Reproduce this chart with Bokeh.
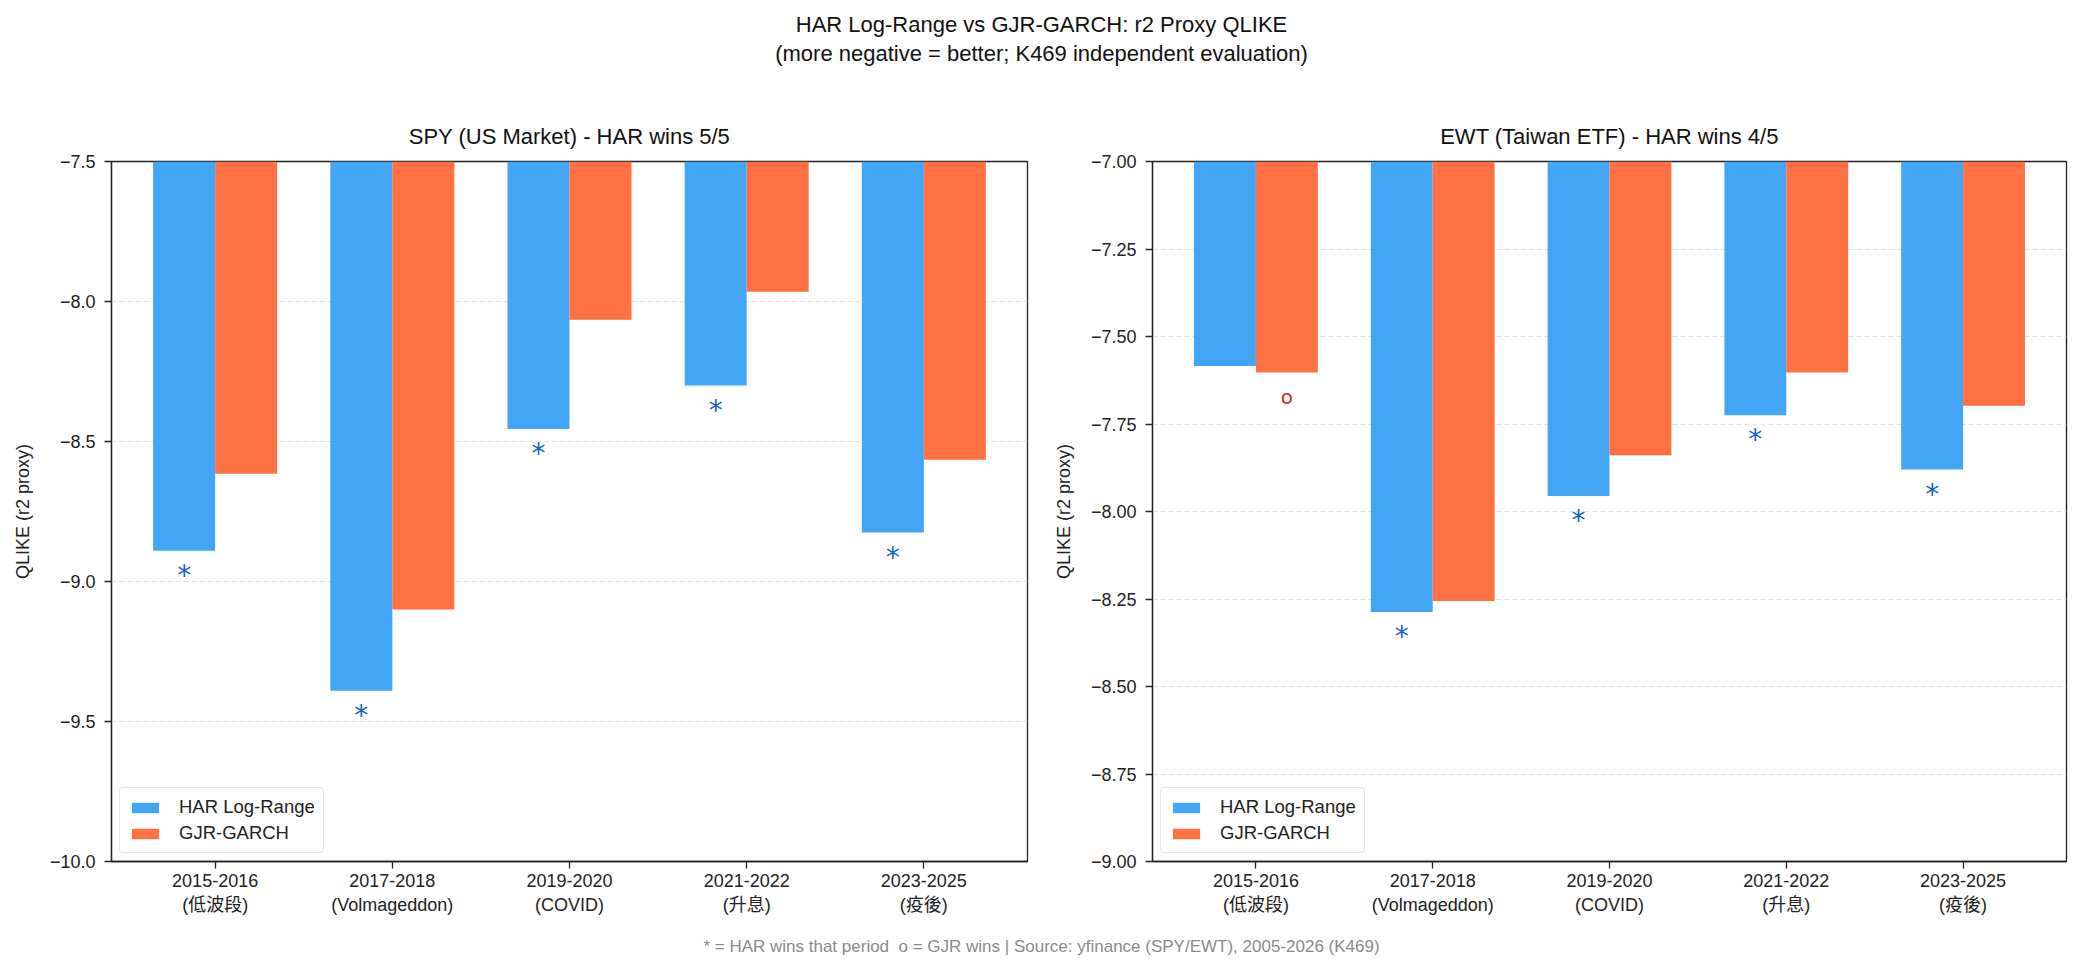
from bokeh.plotting import figure
from bokeh.layouts import column, row
from bokeh.models import Div, Range1d, FixedTicker, Legend, LegendItem, ColumnDataSource, Title
from bokeh.core.properties import value
from bokeh.embed import file_html
from bokeh.resources import INLINE

periods = ["2015-2016\n(低波段)", "2017-2018\n(Volmageddon)", "2019-2020\n(COVID)", "2021-2022\n(升息)", "2023-2025\n(疫後)"]
spy_har = [-8.89, -9.39, -8.455, -8.30, -8.825]
spy_gjr = [-8.615, -9.10, -8.065, -7.965, -8.565]
ewt_har = [-7.584, -8.287, -7.956, -7.725, -7.88]
ewt_gjr = [-7.603, -8.256, -7.839, -7.603, -7.698]

spy_ticks = [-10.0, -9.5, -9.0, -8.5, -8.0, -7.5]
ewt_ticks = [-9.0, -8.75, -8.5, -8.25, -8.0, -7.75, -7.5, -7.25, -7.0]

FONT = "Liberation Sans, Noto Sans CJK TC"
HAR_C = "#42A5F5"
GJR_C = "#FF7043"
W = 0.35


def make(title, har, gjr, ylo, yhi, ticks, fmt, width, bl, br):
    p = figure(width=width, height=825, output_backend="svg", toolbar_location=None,
               x_range=Range1d(-0.585, 4.585), y_range=Range1d(ylo, yhi),
               min_border_left=bl, min_border_right=br, min_border_top=61, min_border_bottom=64,
               title=title)
    p.title.align = "center"
    p.title.text_font = FONT
    p.title.text_font_size = "22px"
    p.title.text_font_style = "normal"
    p.title.text_color = "#111111"
    p.title.standoff = 19
    if "padding" in Title.properties():
        p.title.padding = 3
    xs = list(range(len(har)))
    src = ColumnDataSource(dict(xh=[x - W / 2 for x in xs], xg=[x + W / 2 for x in xs],
                                har=har, gjr=gjr, zero=[0.0] * len(xs)))
    r1 = p.vbar(x="xh", width=W, bottom="har", top="zero", source=src, fill_color=HAR_C, line_color=None)
    r2 = p.vbar(x="xg", width=W, bottom="gjr", top="zero", source=src, fill_color=GJR_C, line_color=None)
    off = (yhi - ylo) * 0.035
    sx, sy, ox, oy = [], [], [], []
    for i in xs:
        if har[i] < gjr[i]:
            sx.append(i - W / 2); sy.append(har[i] - off)
        else:
            ox.append(i + W / 2); oy.append(gjr[i] - off)
    p.text(x=sx, y=sy, text=["*"] * len(sx), text_color="#1565C0", text_font=value("DejaVu Sans"),
           text_font_size="28px", text_align="center", text_baseline="middle")
    p.text(x=ox, y=oy, text=["o"] * len(ox), text_color="#C62828", text_font=value("DejaVu Sans"),
           text_font_size="20px", text_align="center", text_baseline="middle")
    p.xgrid.visible = False
    p.ygrid.grid_line_color = "#e3e3e3"
    p.ygrid.grid_line_dash = "5 3"
    p.ygrid.ticker = FixedTicker(ticks=ticks)
    p.yaxis.ticker = FixedTicker(ticks=ticks)
    p.yaxis.major_label_overrides = {t: (fmt % t).replace("-", "\u2212") for t in ticks}
    p.xaxis.ticker = FixedTicker(ticks=xs)
    p.xaxis.major_label_overrides = {i: periods[i] for i in xs}
    for ax in (p.xaxis, p.yaxis):
        ax.minor_tick_line_color = None
        ax.major_tick_in = 0
        ax.major_tick_out = 7
        ax.axis_line_color = "#222222"
        ax.axis_line_width = 1.3
        ax.major_tick_line_color = "#222222"
        ax.major_tick_line_width = 1.3
        ax.major_label_text_font = FONT
        ax.major_label_text_font_size = "18px"
        ax.major_label_text_color = "#222222"
    p.yaxis.major_label_standoff = 9
    p.xaxis.major_label_standoff = 2
    p.yaxis.axis_label = "QLIKE (r2 proxy)"
    p.yaxis.axis_label_text_font = FONT
    p.yaxis.axis_label_text_font_size = "18px"
    p.yaxis.axis_label_text_font_style = "normal"
    p.yaxis.axis_label_text_color = "#222222"
    p.yaxis.axis_label_standoff = 14
    p.outline_line_color = "#222222"
    p.outline_line_width = 1.3
    leg = Legend(items=[LegendItem(label="HAR Log-Range", renderers=[r1]),
                        LegendItem(label="GJR-GARCH", renderers=[r2])],
                 location="bottom_left")
    leg.label_text_font = FONT
    leg.label_text_font_size = "18.5px"
    leg.label_text_color = "#222222"
    leg.glyph_width = 34
    leg.glyph_height = 13
    leg.label_height = 18
    leg.label_standoff = 17
    leg.border_line_color = "#d0d0d0"
    leg.border_line_width = 1.5
    leg.padding = 8
    leg.spacing = 4
    leg.margin = 8
    if "border_radius" in Legend.properties():
        leg.border_radius = 4
    p.add_layout(leg)
    return p


p1 = make("SPY (US Market) - HAR wins 5/5", spy_har, spy_gjr, -10.0, -7.5, spy_ticks, "%.1f", 1045, 111, 18)
p2 = make("EWT (Taiwan ETF) - HAR wins 4/5", ewt_har, ewt_gjr, -9.0, -7.0, ewt_ticks, "%.2f", 1038, 107, 17)

top = Div(text='<div style="padding-top:10px;line-height:29px">HAR Log-Range vs GJR-GARCH: r2 Proxy QLIKE<br>'
               '(more negative = better; K469 independent evaluation)</div>',
          width=2083, height=100, margin=0,
          styles={"text-align": "center", "font-family": FONT, "font-size": "22px",
                  "color": "#111111", "width": "2083px"})
bottom = Div(text='<div style="line-height:43px">* = HAR wins that period&nbsp;&nbsp;o = GJR wins | '
                  'Source: yfinance (SPY/EWT), 2005-2026 (K469)</div>',
             width=2083, height=45, margin=0,
             styles={"text-align": "center", "font-family": FONT, "font-size": "17px", "color": "#8a8a8a",
                     "width": "2083px"})

layout = column(top, row(p1, p2), bottom)
html = file_html(layout, INLINE)
html = html.replace("<head>", "<head><style>html,body{margin:0;padding:0;}</style>", 1)
open("out.html", "w").write(html)
